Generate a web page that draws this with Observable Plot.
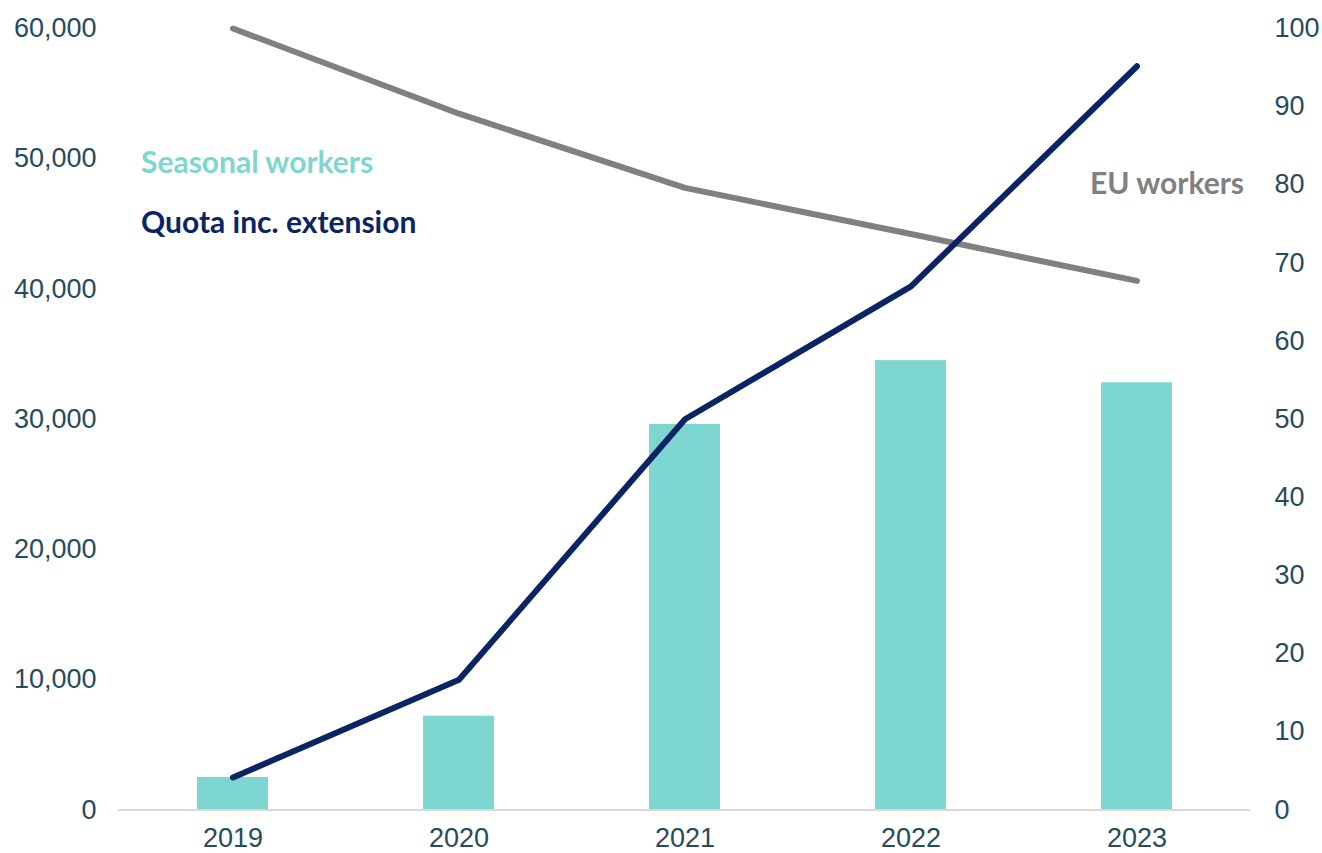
<!DOCTYPE html>
<html>
<head>
<meta charset="utf-8">
<script src="https://cdn.jsdelivr.net/npm/d3@7"></script>
<script src="https://cdn.jsdelivr.net/npm/@observablehq/plot@0.6"></script>
<style>
  html, body { margin: 0; padding: 0; background: #fff; }
  #chart { width: 1322px; height: 853px; }
</style>
</head>
<body>
<div id="chart"></div>
<script>
const years = ["2019", "2020", "2021", "2022", "2023"];
const seasonalWorkers = [2500, 7200, 29600, 34500, 32800];
const quotaIncExtension = [2500, 10000, 30000, 40200, 57100];
const euWorkersIndex = [100, 89.1, 79.6, 73.7, 67.7];
const leftTicks = [0, 10000, 20000, 30000, 40000, 50000, 60000];
const rightTicks = [0, 10, 20, 30, 40, 50, 60, 70, 80, 90, 100];

const leftMax = 60000, rightMax = 100;
const k = leftMax / rightMax;

const rows = years.map((y, i) => ({
  year: y,
  seasonal: seasonalWorkers[i],
  quota: quotaIncExtension[i],
  eu: euWorkersIndex[i] * k
}));

const tickColor = "#264b5f";
const teal = "#7dd6cf";
const navy = "#0b2463";
const gray = "#808080";
const labelFont = "Lato, 'Open Sans', sans-serif";

const chart = Plot.plot({
  width: 1322,
  height: 853,
  marginTop: 28,
  marginBottom: 43.5,
  marginLeft: 118,
  marginRight: 72,
  style: { fontFamily: "'Liberation Sans', Arial, sans-serif", fontSize: "27px", background: "#fff" },
  x: { type: "band", domain: years, paddingInner: 0.686, paddingOuter: 0.344, axis: null },
  y: { domain: [0, leftMax], axis: null },
  marks: [
    Plot.barY(rows, { x: "year", y: "seasonal", fill: teal }),
    Plot.ruleY([0], { stroke: "#d9d9d9", strokeWidth: 2 }),
    Plot.line(rows, { x: "year", y: "eu", stroke: gray, strokeWidth: 6, strokeLinecap: "round", strokeLinejoin: "round" }),
    Plot.line(rows, { x: "year", y: "quota", stroke: navy, strokeWidth: 6, strokeLinecap: "round", strokeLinejoin: "round" }),
    Plot.axisY({ anchor: "left", label: null, ticks: leftTicks, tickFormat: d3.format(","), tickSize: 0, tickPadding: 22, fill: tickColor, fontSize: 27 }),
    Plot.axisY({ anchor: "right", label: null, ticks: rightTicks.map(v => v * k), tickFormat: d => d3.format("d")(d / k), tickSize: 0, tickPadding: 24, fill: tickColor, fontSize: 27 }),
    Plot.axisX({ label: null, tickSize: 0, tickPadding: 18, fill: tickColor, fontSize: 27 }),
    Plot.text(["Seasonal workers"], { x: () => years[0], y: () => 49640, dx: -92, text: d => d, textAnchor: "start", lineAnchor: "middle", fill: teal, fontWeight: "bold", fontSize: 30, fontFamily: labelFont }),
    Plot.text(["Quota inc. extension"], { x: () => years[0], y: () => 45030, dx: -92, text: d => d, textAnchor: "start", lineAnchor: "middle", fill: navy, fontWeight: "bold", fontSize: 30, fontFamily: labelFont }),
    Plot.text(["EU workers"], { x: () => years[4], y: () => 80 * k, dx: 107, text: d => d, textAnchor: "end", lineAnchor: "middle", fill: gray, fontWeight: "bold", fontSize: 30, fontFamily: labelFont })
  ]
});
document.getElementById("chart").appendChild(chart);
</script>
</body>
</html>
